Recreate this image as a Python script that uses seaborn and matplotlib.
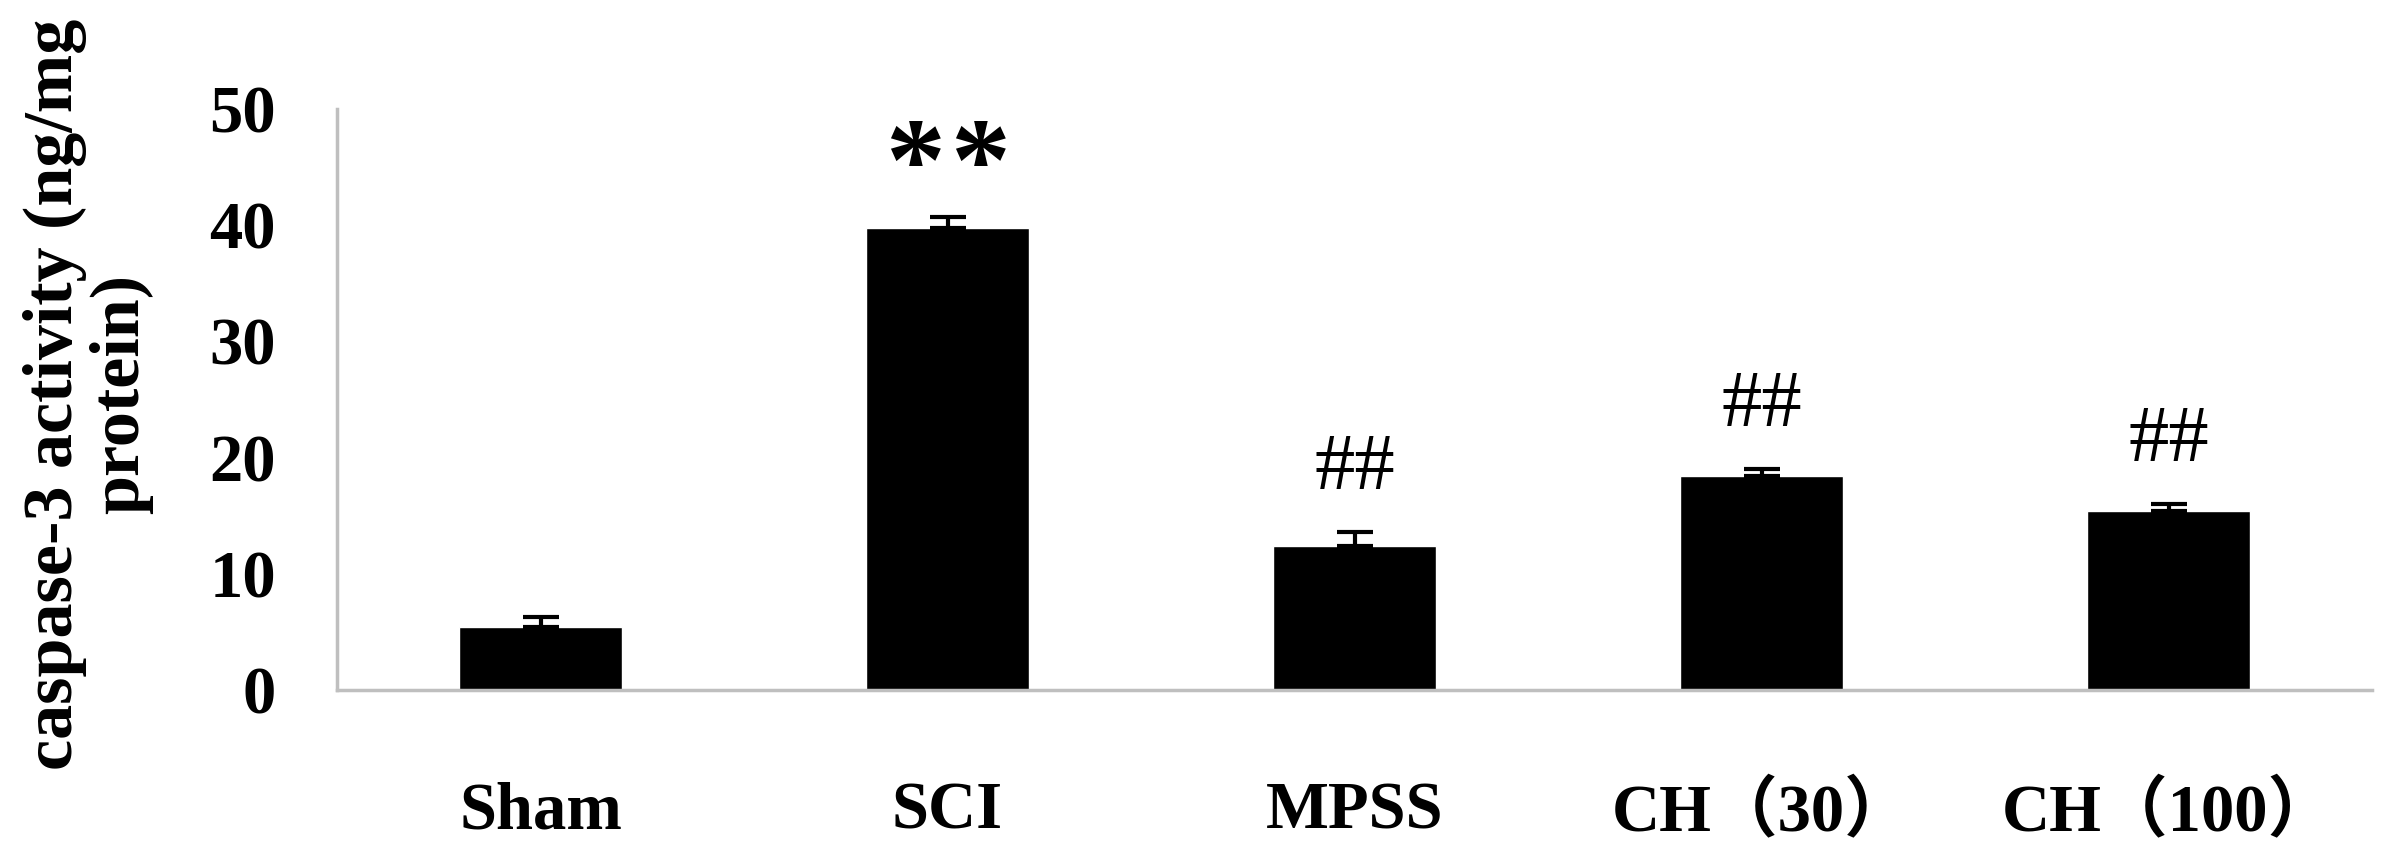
import numpy as np
import matplotlib
matplotlib.use("Agg")
import matplotlib.pyplot as plt
import seaborn as sns

# values
groups = ["Sham", "SCI", "MPSS", "CH（30）", "CH（100）"]
means = [5.4, 39.8, 12.4, 18.4, 15.4]
errs = [0.9, 0.9, 1.2, 0.6, 0.6]
marks = ["", "**", "##", "##", "##"]

sns.set_style("white")
plt.rcParams["font.family"] = ["Liberation Serif", "Noto Sans CJK SC", "DejaVu Sans"]
plt.rcParams["text.color"] = "black"
plt.rcParams["xtick.labelcolor"] = "black"
plt.rcParams["ytick.labelcolor"] = "black"

fig = plt.figure(figsize=(23.84, 8.5), dpi=100)
ax = fig.add_axes([337 / 2384, 1 - 690 / 850, 2035 / 2384, 581 / 850])

sns.barplot(x=groups, y=means, color="black", width=0.4, saturation=1,
            errorbar=None, ax=ax)
ax.errorbar(x=np.arange(len(groups)), y=means, yerr=[np.zeros(len(errs)), errs],
            fmt="none", ecolor="black", elinewidth=3, capsize=13, capthick=3)

# significance marks above the error bars
for i, (m, e, s) in enumerate(zip(means, errs, marks)):
    if not s:
        continue
    if "*" in s:
        # two big asterisks, spaced apart
        for k, ch in enumerate(s):
            dx = (k - (len(s) - 1) / 2) * 47
            ax.annotate(ch, (i, m + e), xytext=(dx, 12), textcoords="offset points",
                        ha="center", va="baseline", fontsize=86, fontweight="bold")
    else:
        ax.annotate(s, (i, m + e), xytext=(0, 45), textcoords="offset points",
                    ha="center", va="center", fontsize=58)

ax.set_ylim(0, 50)
ax.set_xlim(-0.5, len(groups) - 0.5)
ax.set_yticks(range(0, 51, 10))
ax.set_xlabel("")
ax.set_ylabel("")

for side in ["top", "right"]:
    ax.spines[side].set_visible(False)
for side in ["left", "bottom"]:
    ax.spines[side].set_color("#bfbfbf")
    ax.spines[side].set_linewidth(2.5)

ax.tick_params(axis="y", direction="in", length=15, width=2, color="#bfbfbf",
               pad=44, labelsize=48)
for lab in ax.get_yticklabels():
    lab.set_fontweight("bold")

ax.set_xticks(np.arange(-0.5, len(groups), 1.0), minor=True)
ax.tick_params(axis="x", which="minor", direction="in", length=16, width=1.5,
               color="#bfbfbf")
ax.tick_params(axis="x", which="major", length=0, pad=66, labelsize=48)
for lab in ax.get_xticklabels():
    lab.set_fontweight("bold")

fig.text(88 / 2384, 1 - 394 / 850, "caspase-3 activity (ng/mg\nprotein)",
         rotation=90, ha="center", va="center", multialignment="center",
         fontsize=50.5, fontweight="bold", linespacing=1.05)

fig.savefig("out.png", dpi=100)
